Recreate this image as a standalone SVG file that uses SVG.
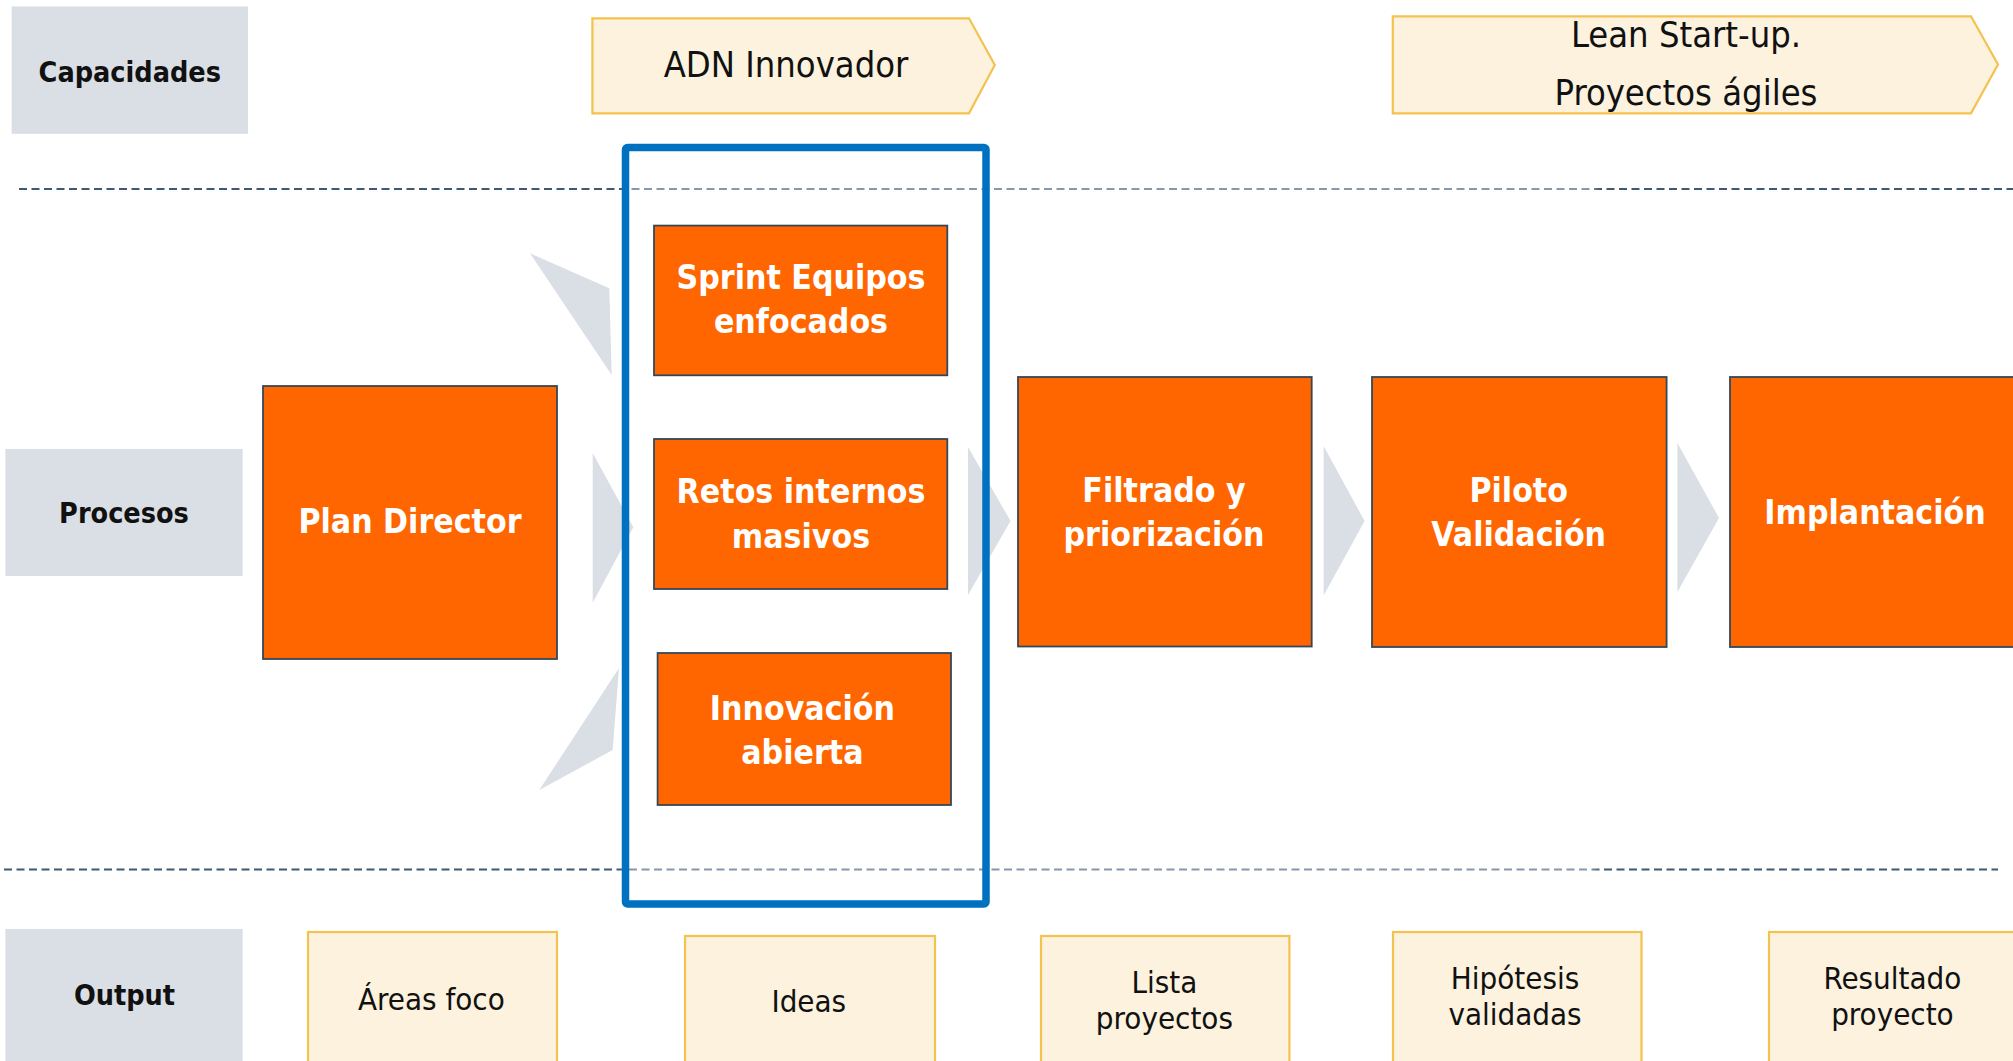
<svg xmlns="http://www.w3.org/2000/svg" width="2013" height="1061" viewBox="0 0 2013 1061">
<defs>
<style>
.lab{fill:#DADFE6}
.cream{fill:#FCF2DD;stroke:#F3C24F;stroke-width:2.2}
.org{fill:#FF6600;stroke:#34475A;stroke-width:1.8}
.chev{fill:#DADFE6}
text{font-family:"DejaVu Sans Condensed","DejaVu Sans",sans-serif;font-stretch:condensed;text-anchor:middle;dominant-baseline:central}
.lt{font-weight:bold;font-size:28.5px;fill:#111}
.ot{font-weight:bold;font-size:33.5px;fill:#FFFFFF}
.ct{font-size:36px;fill:#111}
.st{font-size:31px;fill:#111}
.dash{fill:none;stroke-width:2.2;stroke-dasharray:8 4.5}
</style>
<linearGradient id="dg" gradientUnits="userSpaceOnUse" x1="0" y1="0" x2="2013" y2="0">
<stop offset="0" stop-color="#3F5A70"/>
<stop offset="0.308" stop-color="#3F5A70"/>
<stop offset="0.312" stop-color="#8698AA"/>
<stop offset="0.79" stop-color="#8698AA"/>
<stop offset="0.795" stop-color="#3F5A70"/>
<stop offset="1" stop-color="#3F5A70"/>
</linearGradient>
</defs>
<rect width="2013" height="1061" fill="#FFFFFF"/>

<g id="separators">
<line class="dash" x1="19" y1="189" x2="2013" y2="189" stroke="url(#dg)"/>
<line class="dash" x1="4" y1="869.5" x2="1998" y2="869.5" stroke="url(#dg)"/>
</g>

<g id="connectors">
<polygon class="chev" points="530,253.3 609.3,288.3 611.7,375"/>
<polygon class="chev" points="592.7,453 633.3,527.3 592.7,602.7"/>
<polygon class="chev" points="619,668 612.7,750 539.3,790"/>
<polygon class="chev" points="968,447 1010.5,521 968,595"/>
<polygon class="chev" points="1323.6,446 1364.6,521 1323.6,595.5"/>
<polygon class="chev" points="1677.4,443 1719,518 1677.4,592"/>
</g>

<g id="label-capacidades"><rect class="lab" x="11.6" y="6.4" width="236.4" height="127.4"/><text class="lt" x="129.8" y="72">Capacidades</text></g>
<g id="label-procesos"><rect class="lab" x="5.4" y="449" width="237.2" height="127"/><text class="lt" x="124" y="513.5">Procesos</text></g>
<g id="label-output"><rect class="lab" x="5.4" y="929" width="237.2" height="132"/><text class="lt" x="124.5" y="995">Output</text></g>

<g id="cap-adn"><polygon class="cream" points="592.4,18.3 969,18.3 994.8,65 969,113.3 592.4,113.3"/><text class="ct" x="786" y="64.5">ADN Innovador</text></g>
<g id="cap-lean"><polygon class="cream" points="1392.8,16.3 1971,16.3 1998,64.5 1971,113.3 1392.8,113.3"/><text class="ct" x="1686" y="34.5">Lean Start-up.</text><text class="ct" x="1686" y="92.5">Proyectos ágiles</text></g>

<g id="focus-frame"><rect x="625.5" y="147.5" width="360.5" height="756.5" rx="2" fill="none" stroke="#0070C0" stroke-width="7.5"/></g>

<g id="plan-director"><rect class="org" x="263" y="386" width="294" height="273"/><text class="ot" x="410" y="521">Plan Director</text></g>
<g id="sprint"><rect class="org" x="654" y="225.6" width="293.3" height="149.7"/><text class="ot" x="801" y="277.3">Sprint Equipos</text><text class="ot" x="801" y="321">enfocados</text></g>
<g id="retos"><rect class="org" x="654" y="439" width="293.3" height="150"/><text class="ot" x="801" y="491.7">Retos internos</text><text class="ot" x="801" y="536.6">masivos</text></g>
<g id="innovacion"><rect class="org" x="657.6" y="653" width="293.4" height="152"/><text class="ot" x="802.4" y="708.7">Innovación</text><text class="ot" x="802.4" y="752.3">abierta</text></g>
<g id="filtrado"><rect class="org" x="1018" y="377" width="293.7" height="269.5"/><text class="ot" x="1164" y="490.4">Filtrado y</text><text class="ot" x="1164" y="534">priorización</text></g>
<g id="piloto"><rect class="org" x="1372" y="377" width="294.6" height="270"/><text class="ot" x="1518.7" y="490.4">Piloto</text><text class="ot" x="1518.7" y="534">Validación</text></g>
<g id="implantacion"><rect class="org" x="1730" y="377" width="292" height="270"/><text class="ot" x="1875" y="512.2">Implantación</text></g>

<g id="out-areas"><rect class="cream" x="308" y="932" width="249" height="135"/><text class="st" x="431.4" y="998.8">Áreas foco</text></g>
<g id="out-ideas"><rect class="cream" x="685" y="936" width="250" height="135"/><text class="st" x="808.8" y="1001.4">Ideas</text></g>
<g id="out-lista"><rect class="cream" x="1041" y="936" width="248.4" height="135"/><text class="st" x="1164.4" y="982">Lista</text><text class="st" x="1164.4" y="1018">proyectos</text></g>
<g id="out-hipotesis"><rect class="cream" x="1393" y="932" width="248.5" height="135"/><text class="st" x="1515" y="978">Hipótesis</text><text class="st" x="1515" y="1014">validadas</text></g>
<g id="out-resultado"><rect class="cream" x="1769" y="932" width="248" height="135"/><text class="st" x="1892.4" y="978">Resultado</text><text class="st" x="1892.4" y="1014">proyecto</text></g>
</svg>
